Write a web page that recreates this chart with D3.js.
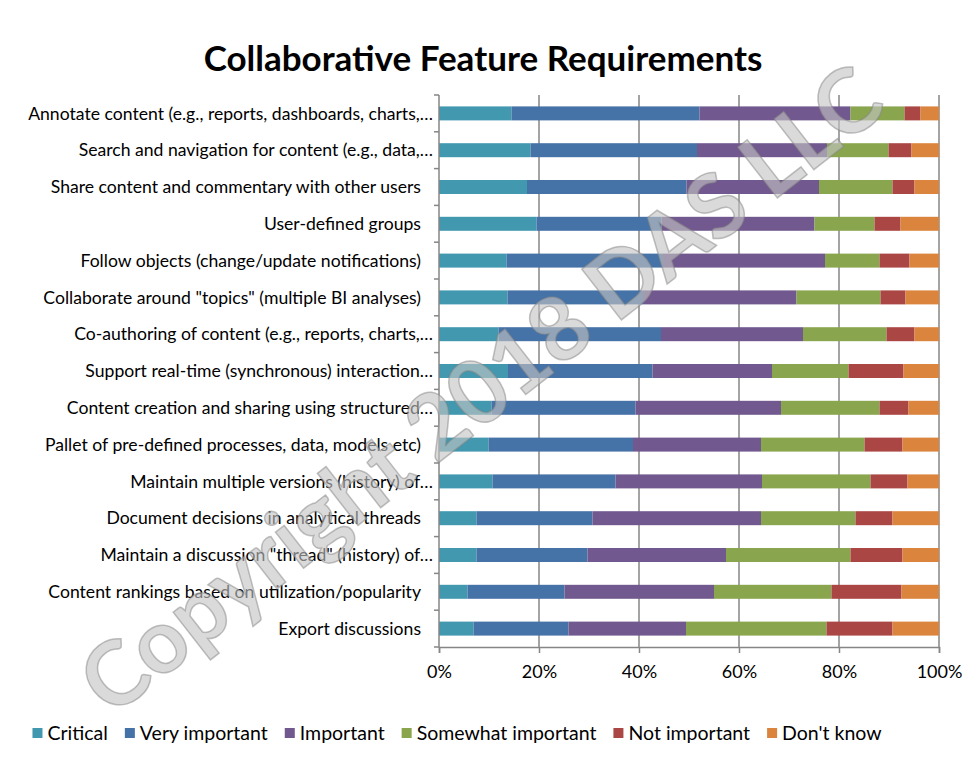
<!DOCTYPE html>
<html>
<head>
<meta charset="utf-8">
<script src="https://cdn.jsdelivr.net/npm/d3@7"></script>
<style>
  body { margin: 0; background: #fff; }
  svg { display: block; font-family: Lato, "Open Sans", sans-serif; }
</style>
</head>
<body>
<svg id="chart" width="976" height="763"></svg>
<script>
var categories = [
  "Annotate content (e.g., reports, dashboards, charts,…",
  "Search and navigation for content (e.g., data,…",
  "Share content and commentary with other users",
  "User-defined groups",
  "Follow objects (change/update notifications)",
  "Collaborate around \"topics\" (multiple BI analyses)",
  "Co-authoring of content (e.g., reports, charts,…",
  "Support real-time (synchronous) interaction…",
  "Content creation and sharing using structured…",
  "Pallet of pre-defined processes, data, models etc)",
  "Maintain multiple versions (history) of…",
  "Document decisions in analytical threads",
  "Maintain a discussion \"thread\" (history) of…",
  "Content rankings based on utilization/popularity",
  "Export discussions"
];

var seriesNames = ["Critical", "Very important", "Important", "Somewhat important", "Not important", "Don't know"];
var seriesColors = ["#4198af", "#4572a7", "#71588f", "#89a54e", "#aa4643", "#db843d"];

// percent of respondents, one value per category
var critical      = [14.5, 18.3, 17.6, 19.5, 13.5, 13.7, 11.9, 13.8, 10.5,  9.9, 10.7,  7.5,  7.5,  5.7,  6.9];
var veryImportant = [37.6, 33.3, 31.9, 25.0, 31.3, 27.1, 32.5, 28.9, 28.8, 28.9, 24.6, 23.2, 22.2, 19.4, 19.0];
var important     = [30.2, 26.0, 26.5, 30.6, 32.4, 30.7, 28.4, 23.9, 29.1, 25.6, 29.3, 33.7, 27.7, 29.9, 23.5];
var somewhat      = [10.8, 12.3, 14.7, 12.0, 10.9, 16.8, 16.7, 15.3, 19.7, 20.7, 21.7, 18.9, 24.9, 23.5, 28.1];
var notImportant  = [ 3.2,  4.6,  4.4,  5.2,  6.0,  5.0,  5.6, 11.0,  5.8,  7.6,  7.4,  7.4, 10.4, 14.0, 13.2];
var dontKnow      = [ 3.7,  5.5,  4.9,  7.7,  5.9,  6.7,  4.9,  7.1,  6.1,  7.3,  6.3,  9.3,  7.3,  7.5,  9.3];

var xTicks = [0, 0.2, 0.4, 0.6, 0.8, 1];

var seriesValues = [critical, veryImportant, important, somewhat, notImportant, dontKnow];
var rows = categories.map(function(c, i) {
  var r = { category: c };
  seriesNames.forEach(function(s, j) { r[s] = seriesValues[j][i]; });
  return r;
});

var svg = d3.select("#chart");
var plotLeft = 439, plotRight = 939, plotTop = 95, plotBottom = 647;
var axisColor = "#868686";

var x = d3.scaleLinear().domain([0, 1]).range([plotLeft, plotRight]);
var y = d3.scaleBand().domain(categories).range([plotTop, plotBottom]).paddingInner(0.62).paddingOuter(0.31);

var stacked = d3.stack().keys(seriesNames).offset(d3.stackOffsetExpand)(rows);

// title
svg.append("text")
  .attr("x", 483).attr("y", 71)
  .attr("text-anchor", "middle")
  .style("font-size", "35px").style("font-weight", "bold")
  .text("Collaborative Feature Requirements");

// gridlines
svg.append("g").selectAll("line")
  .data(xTicks.slice(1))
  .enter().append("line")
  .attr("x1", function(d) { return x(d); })
  .attr("x2", function(d) { return x(d); })
  .attr("y1", plotTop).attr("y2", plotBottom)
  .attr("stroke", axisColor).attr("stroke-width", 1.5);

// bars
svg.append("g").selectAll("g")
  .data(stacked)
  .enter().append("g")
  .attr("fill", function(d, i) { return seriesColors[i]; })
  .selectAll("rect")
  .data(function(d) { return d; })
  .enter().append("rect")
  .attr("x", function(d) { return x(d[0]); })
  .attr("width", function(d) { return x(d[1]) - x(d[0]); })
  .attr("y", function(d) { return y(d.data.category); })
  .attr("height", y.bandwidth());

// x axis
var xAxis = svg.append("g")
  .attr("transform", "translate(0," + plotBottom + ")")
  .call(d3.axisBottom(x).tickValues(xTicks).tickFormat(d3.format(".0%")).tickSize(6).tickPadding(12));
xAxis.select(".domain").attr("stroke", axisColor).attr("stroke-width", 1.5);
xAxis.selectAll(".tick line").attr("stroke", axisColor).attr("stroke-width", 1.5);
xAxis.selectAll(".tick text").style("font-size", "18px").style("font-family", "Lato").attr("fill", "#000");

// y axis line + ticks at band boundaries
var step = y.step();
var yTicks = d3.range(categories.length + 1).map(function(i) { return plotTop + i * step; });
svg.append("line")
  .attr("x1", plotLeft).attr("x2", plotLeft).attr("y1", plotTop).attr("y2", plotBottom)
  .attr("stroke", axisColor).attr("stroke-width", 1.5);
svg.append("g").selectAll("line")
  .data(yTicks)
  .enter().append("line")
  .attr("x1", plotLeft - 5).attr("x2", plotLeft)
  .attr("y1", function(d) { return d; }).attr("y2", function(d) { return d; })
  .attr("stroke", axisColor).attr("stroke-width", 1.5);

// category labels
svg.append("g").selectAll("text")
  .data(categories)
  .enter().append("text")
  .attr("x", function(d) { return d.slice(-1) === "…" ? plotLeft - 6 : plotLeft - 18; })
  .attr("y", function(d) { return y(d) + y.bandwidth() / 2; })
  .attr("dy", "0.35em")
  .attr("text-anchor", "end")
  .style("font-size", "17.6px")
  .text(function(d) { return d; });

// legend
var legend = svg.append("g");
var items = legend.selectAll("g")
  .data(seriesNames)
  .enter().append("g");
items.append("rect")
  .attr("width", 10).attr("height", 10)
  .attr("y", -5)
  .attr("fill", function(d, i) { return seriesColors[i]; });
items.append("text")
  .attr("x", 15).attr("dy", "0.35em")
  .style("font-size", "19.5px")
  .text(function(d) { return d; });
var pos = 0;
items.each(function() {
  var w = this.getBBox().width;
  d3.select(this).attr("data-x", pos);
  pos += w + 17;
});
var total = pos - 17;
var startX = 457 - total / 2;
items.attr("transform", function() { return "translate(" + (startX + (+this.getAttribute("data-x"))) + ",733)"; });

// watermark
svg.append("text")
  .attr("transform", "translate(481,390) rotate(-38)")
  .attr("text-anchor", "middle")
  .attr("dy", "0.35em")
  .style("font-size", "89px").style("font-weight", "bold")
  .attr("fill", "#c4c4c4").attr("fill-opacity", 0.62)
  .attr("stroke", "#858585").attr("stroke-opacity", 0.5).attr("stroke-width", 1.5)
  .text("Copyright 2018 DAS LLC");
</script>
</body>
</html>
